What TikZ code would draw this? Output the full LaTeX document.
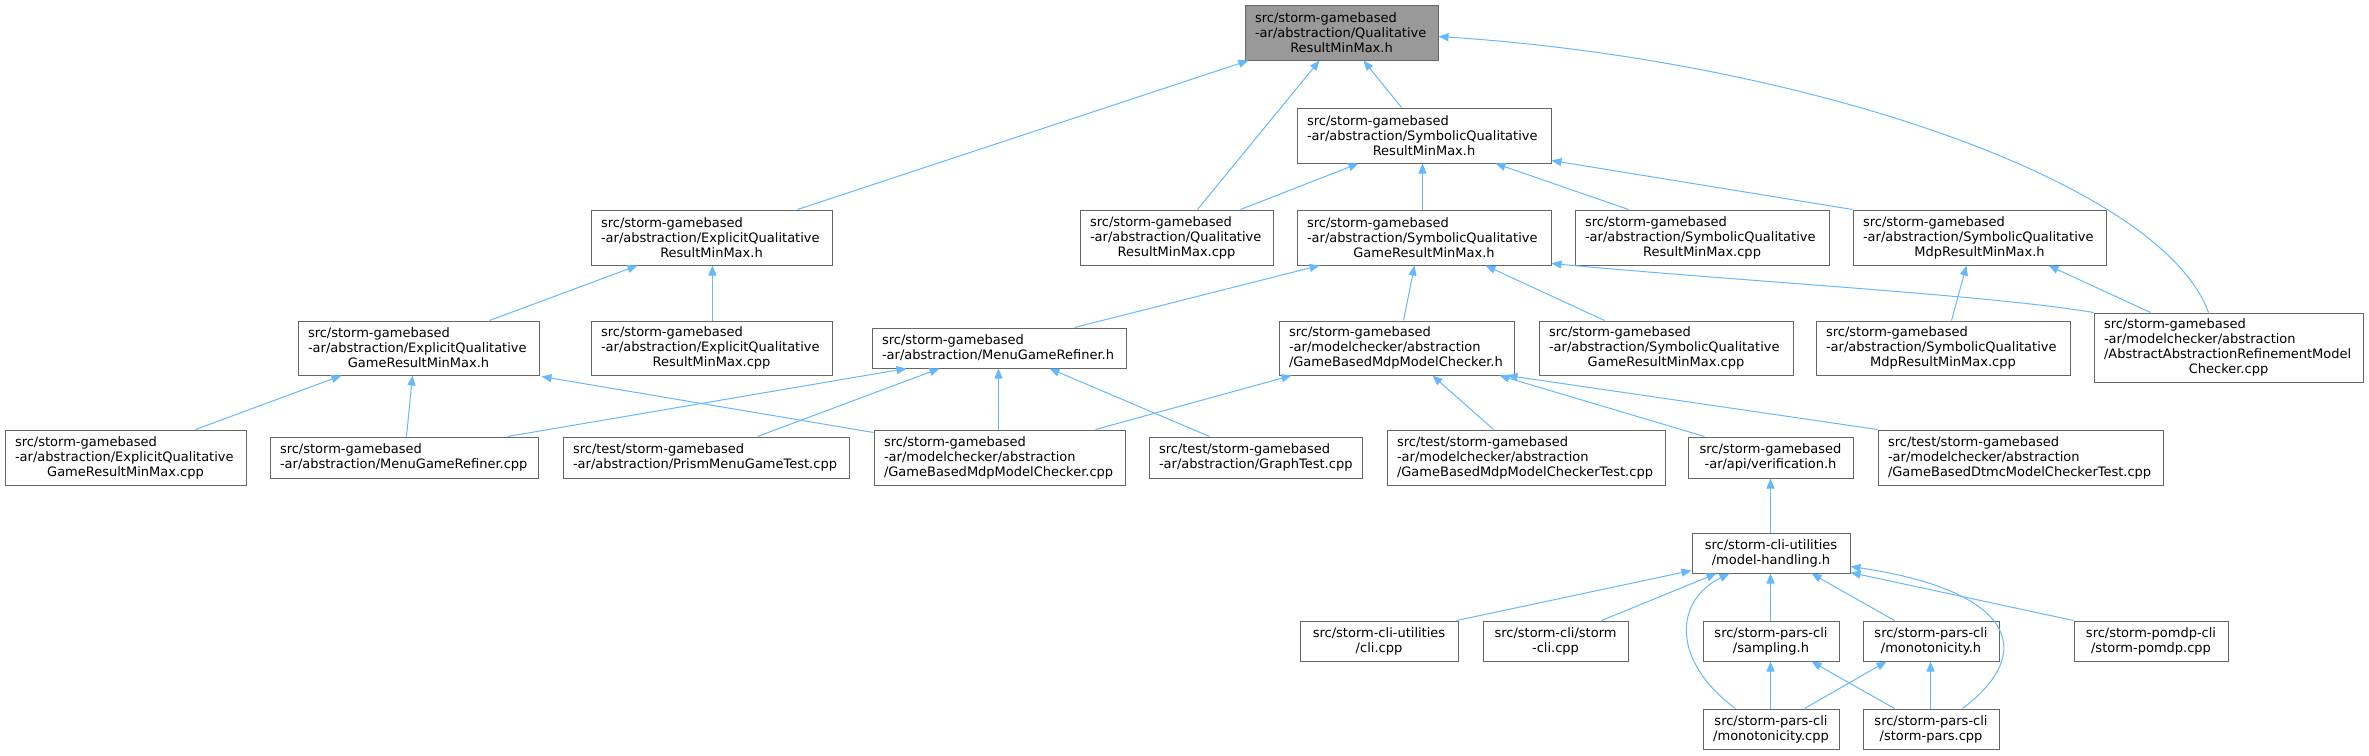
\documentclass[tikz,border=0pt]{standalone}
\usepackage{fontspec}
\setmainfont{DejaVu Sans}
\usetikzlibrary{arrows.meta,calc}
\definecolor{edgec}{HTML}{63B8FF}
\definecolor{boxc}{HTML}{666666}
\definecolor{rootc}{HTML}{999999}
\newcommand\dvf{\fontsize{13}{15}\selectfont}
\newcommand\lline[1]{\makebox[\linewidth][l]{#1}}
\tikzset{
  box/.style n args={3}{draw=boxc, line width=1pt, fill=white, minimum width=#1pt,
    minimum height=#2pt, text width=#3pt, inner xsep=10pt, inner ysep=0pt,
    align=center, font=\dvf},
  rootbox/.style={fill=rootc},
  edge/.style={draw=edgec, line width=1pt, -{Triangle[length=10pt,width=8pt]}}
}
\begin{document}
\begin{tikzpicture}[x=1pt,y=-1pt]
\useasboundingbox (0,0) rectangle (2369,755);
% row 0
\node[box={193}{55}{173},rootbox] (R) at (1341.5,32.5) {\lline{src/storm-gamebased}\\\lline{-ar/abstraction/Qualitative}\\ResultMinMax.h};
% row 1
\node[box={254}{55}{234}] (SQRh) at (1424,135.5) {\lline{src/storm-gamebased}\\\lline{-ar/abstraction/SymbolicQualitative}\\ResultMinMax.h};
% row 2
\node[box={241}{55}{221}] (EQRh) at (711.5,237.5) {\lline{src/storm-gamebased}\\\lline{-ar/abstraction/ExplicitQualitative}\\ResultMinMax.h};
\node[box={193}{55}{173}] (QRcpp) at (1176.5,237.5) {\lline{src/storm-gamebased}\\\lline{-ar/abstraction/Qualitative}\\ResultMinMax.cpp};
\node[box={254}{55}{234}] (SQGRh) at (1424,237.5) {\lline{src/storm-gamebased}\\\lline{-ar/abstraction/SymbolicQualitative}\\GameResultMinMax.h};
\node[box={254}{55}{234}] (SQRcpp) at (1702,237.5) {\lline{src/storm-gamebased}\\\lline{-ar/abstraction/SymbolicQualitative}\\ResultMinMax.cpp};
\node[box={253}{55}{233}] (SQMRh) at (1979.5,237.5) {\lline{src/storm-gamebased}\\\lline{-ar/abstraction/SymbolicQualitative}\\MdpResultMinMax.h};
% row 3
\node[box={241}{54}{221}] (EQGRh) at (418.5,348) {\lline{src/storm-gamebased}\\\lline{-ar/abstraction/ExplicitQualitative}\\GameResultMinMax.h};
\node[box={241}{54}{221}] (EQRcpp) at (711.5,348) {\lline{src/storm-gamebased}\\\lline{-ar/abstraction/ExplicitQualitative}\\ResultMinMax.cpp};
\node[box={254}{40}{234}] (MGRh) at (999,348) {\lline{src/storm-gamebased}\\\lline{-ar/abstraction/MenuGameRefiner.h}};
\node[box={235}{54}{215}] (GBMMCh) at (1396.5,348) {\lline{src/storm-gamebased}\\\lline{-ar/modelchecker/abstraction}\\\lline{/GameBasedMdpModelChecker.h}};
\node[box={254}{54}{234}] (SQGRcpp) at (1666,348) {\lline{src/storm-gamebased}\\\lline{-ar/abstraction/SymbolicQualitative}\\GameResultMinMax.cpp};
\node[box={254}{54}{234}] (SQMRcpp) at (1943,348) {\lline{src/storm-gamebased}\\\lline{-ar/abstraction/SymbolicQualitative}\\MdpResultMinMax.cpp};
\node[box={269}{69}{249}] (AARMC) at (2228.5,347.5) {\lline{src/storm-gamebased}\\\lline{-ar/modelchecker/abstraction}\\\lline{/AbstractAbstractionRefinementModel}\\Checker.cpp};
% row 4
\node[box={241}{55}{221}] (EQGRcpp) at (125.5,457.5) {\lline{src/storm-gamebased}\\\lline{-ar/abstraction/ExplicitQualitative}\\GameResultMinMax.cpp};
\node[box={268}{41}{248}] (MGRcpp) at (404,457.5) {\lline{src/storm-gamebased}\\\lline{-ar/abstraction/MenuGameRefiner.cpp}};
\node[box={286}{41}{266}] (PMGT) at (706,457.5) {\lline{src/test/storm-gamebased}\\\lline{-ar/abstraction/PrismMenuGameTest.cpp}};
\node[box={251}{55}{231}] (GBMMCcpp) at (999.5,457.5) {\lline{src/storm-gamebased}\\\lline{-ar/modelchecker/abstraction}\\\lline{/GameBasedMdpModelChecker.cpp}};
\node[box={213}{41}{193}] (GT) at (1255.5,457.5) {\lline{src/test/storm-gamebased}\\\lline{-ar/abstraction/GraphTest.cpp}};
\node[box={278}{55}{258}] (GBMMCT) at (1526,457.5) {\lline{src/test/storm-gamebased}\\\lline{-ar/modelchecker/abstraction}\\\lline{/GameBasedMdpModelCheckerTest.cpp}};
\node[box={165}{41}{145}] (VER) at (1770.5,457.5) {src/storm-gamebased\\-ar/api/verification.h};
\node[box={285}{55}{265}] (GBDMCT) at (2020.5,457.5) {\lline{src/test/storm-gamebased}\\\lline{-ar/modelchecker/abstraction}\\\lline{/GameBasedDtmcModelCheckerTest.cpp}};
% row 5
\node[box={158}{40}{138}] (MH) at (1771,553) {src/storm-cli-utilities\\/model-handling.h};
% row 6
\node[box={158}{40}{138}] (CLI) at (1379,641) {src/storm-cli-utilities\\/cli.cpp};
\node[box={145}{40}{125}] (SCLI) at (1555.5,641) {src/storm-cli/storm\\-cli.cpp};
\node[box={136}{40}{116}] (SAMP) at (1771,641) {src/storm-pars-cli\\/sampling.h};
\node[box={136}{40}{116}] (MONh) at (1931,641) {src/storm-pars-cli\\/monotonicity.h};
\node[box={154}{40}{134}] (POMDP) at (2151,641) {src/storm-pomdp-cli\\/storm-pomdp.cpp};
% row 7
\node[box={136}{40}{116}] (MONcpp) at (1771,729) {src/storm-pars-cli\\/monotonicity.cpp};
\node[box={136}{40}{116}] (SPcpp) at (1931,729) {src/storm-pars-cli\\/storm-pars.cpp};
% edges
\draw[edge] ($(EQRh.north west)+(207,0)$) -- ($(R.south west)+(4,0)$);
\draw[edge] ($(QRcpp.north west)+(118,0)$) -- ($(R.south west)+(75,0)$);
\draw[edge] ($(SQRh.north west)+(105,0)$) -- ($(R.south west)+(119,0)$);
\draw[edge] ($(AARMC.north west)+(115,0)$) .. controls (2160,180) and (1800,60) .. ($(R.north east)+(0,32)$);
\draw[edge] ($(QRcpp.north west)+(161,0)$) -- ($(SQRh.south west)+(62,0)$);
\draw[edge] ($(SQGRh.north west)+(126,0)$) -- ($(SQRh.south west)+(126,0)$);
\draw[edge] ($(SQRcpp.north west)+(54,0)$) -- ($(SQRh.south west)+(199,0)$);
\draw[edge] (SQMRh.north west) -- ($(SQRh.south east)+(0,-3)$);
\draw[edge] ($(MGRh.north west)+(203,0)$) -- ($(SQGRh.south west)+(23,0)$);
\draw[edge] ($(GBMMCh.north west)+(125,0)$) -- ($(SQGRh.south west)+(118,0)$);
\draw[edge] ($(SQGRcpp.north west)+(66,0)$) -- ($(SQGRh.south west)+(189,0)$);
\draw[edge] (AARMC.north west) .. controls (1990,295) and (1750,282) .. ($(SQGRh.south east)+(0,-2)$);
\draw[edge] ($(SQMRcpp.north west)+(136,0)$) -- ($(SQMRh.south west)+(114,0)$);
\draw[edge] ($(AARMC.north west)+(57,0)$) -- ($(SQMRh.south west)+(196,0)$);
\draw[edge] ($(EQGRh.north west)+(192,0)$) -- ($(EQRh.south west)+(47,0)$);
\draw[edge] ($(EQRcpp.north west)+(122,0)$) -- ($(EQRh.south west)+(122,0)$);
\draw[edge] ($(EQGRcpp.north west)+(191,0)$) -- ($(EQGRh.south west)+(44,0)$);
\draw[edge] ($(MGRcpp.north west)+(137,0)$) -- ($(EQGRh.south west)+(115,0)$);
\draw[edge] ($(GBMMCcpp.north west)+(0,3)$) -- ($(EQGRh.south east)+(2,1)$);
\draw[edge] ($(MGRcpp.north west)+(238,0)$) -- ($(MGRh.south west)+(35,0)$);
\draw[edge] ($(PMGT.north west)+(195,0)$) -- ($(MGRh.south west)+(68,0)$);
\draw[edge] ($(GBMMCcpp.north west)+(125,0)$) -- ($(MGRh.south west)+(127,0)$);
\draw[edge] ($(GT.north west)+(61,0)$) -- ($(MGRh.south west)+(178,0)$);
\draw[edge] ($(GBMMCcpp.north west)+(222,0)$) -- ($(GBMMCh.south west)+(13,0)$);
\draw[edge] ($(GBMMCT.north west)+(107,0)$) -- ($(GBMMCh.south west)+(154,0)$);
\draw[edge] ($(VER.north west)+(17,0)$) -- ($(GBMMCh.south west)+(221,0)$);
\draw[edge] (GBDMCT.north west) -- ($(GBMMCh.south west)+(229,0)$);
\draw[edge] ($(MH.north west)+(79,0)$) -- ($(VER.south west)+(83,0)$);
\draw[edge] ($(CLI.north east)+(-2,0)$) -- ($(MH.south west)+(0,-3)$);
\draw[edge] ($(SCLI.north west)+(119,0)$) -- ($(MH.south west)+(25,0)$);
\draw[edge] ($(MONcpp.north west)+(33,0)$) .. controls (1670,660) and (1675,600) .. ($(MH.south west)+(38,0)$);
\draw[edge] ($(SAMP.north west)+(68,0)$) -- ($(MH.south west)+(79,0)$);
\draw[edge] ($(MONh.north west)+(32,0)$) -- ($(MH.south west)+(120,0)$);
\draw[edge] ($(SPcpp.north west)+(100,0)$) .. controls (2040,650) and (2010,590) .. ($(MH.south east)+(0,-7)$);
\draw[edge] (POMDP.north west) -- ($(MH.south east)+(0,-1)$);
\draw[edge] ($(MONcpp.north west)+(68,0)$) -- ($(SAMP.south west)+(68,0)$);
\draw[edge] ($(SPcpp.north west)+(32,0)$) -- ($(SAMP.south west)+(109,0)$);
\draw[edge] ($(MONcpp.north west)+(102,0)$) -- ($(MONh.south west)+(24,0)$);
\draw[edge] ($(SPcpp.north west)+(68,0)$) -- ($(MONh.south west)+(68,0)$);
\end{tikzpicture}
\end{document}
